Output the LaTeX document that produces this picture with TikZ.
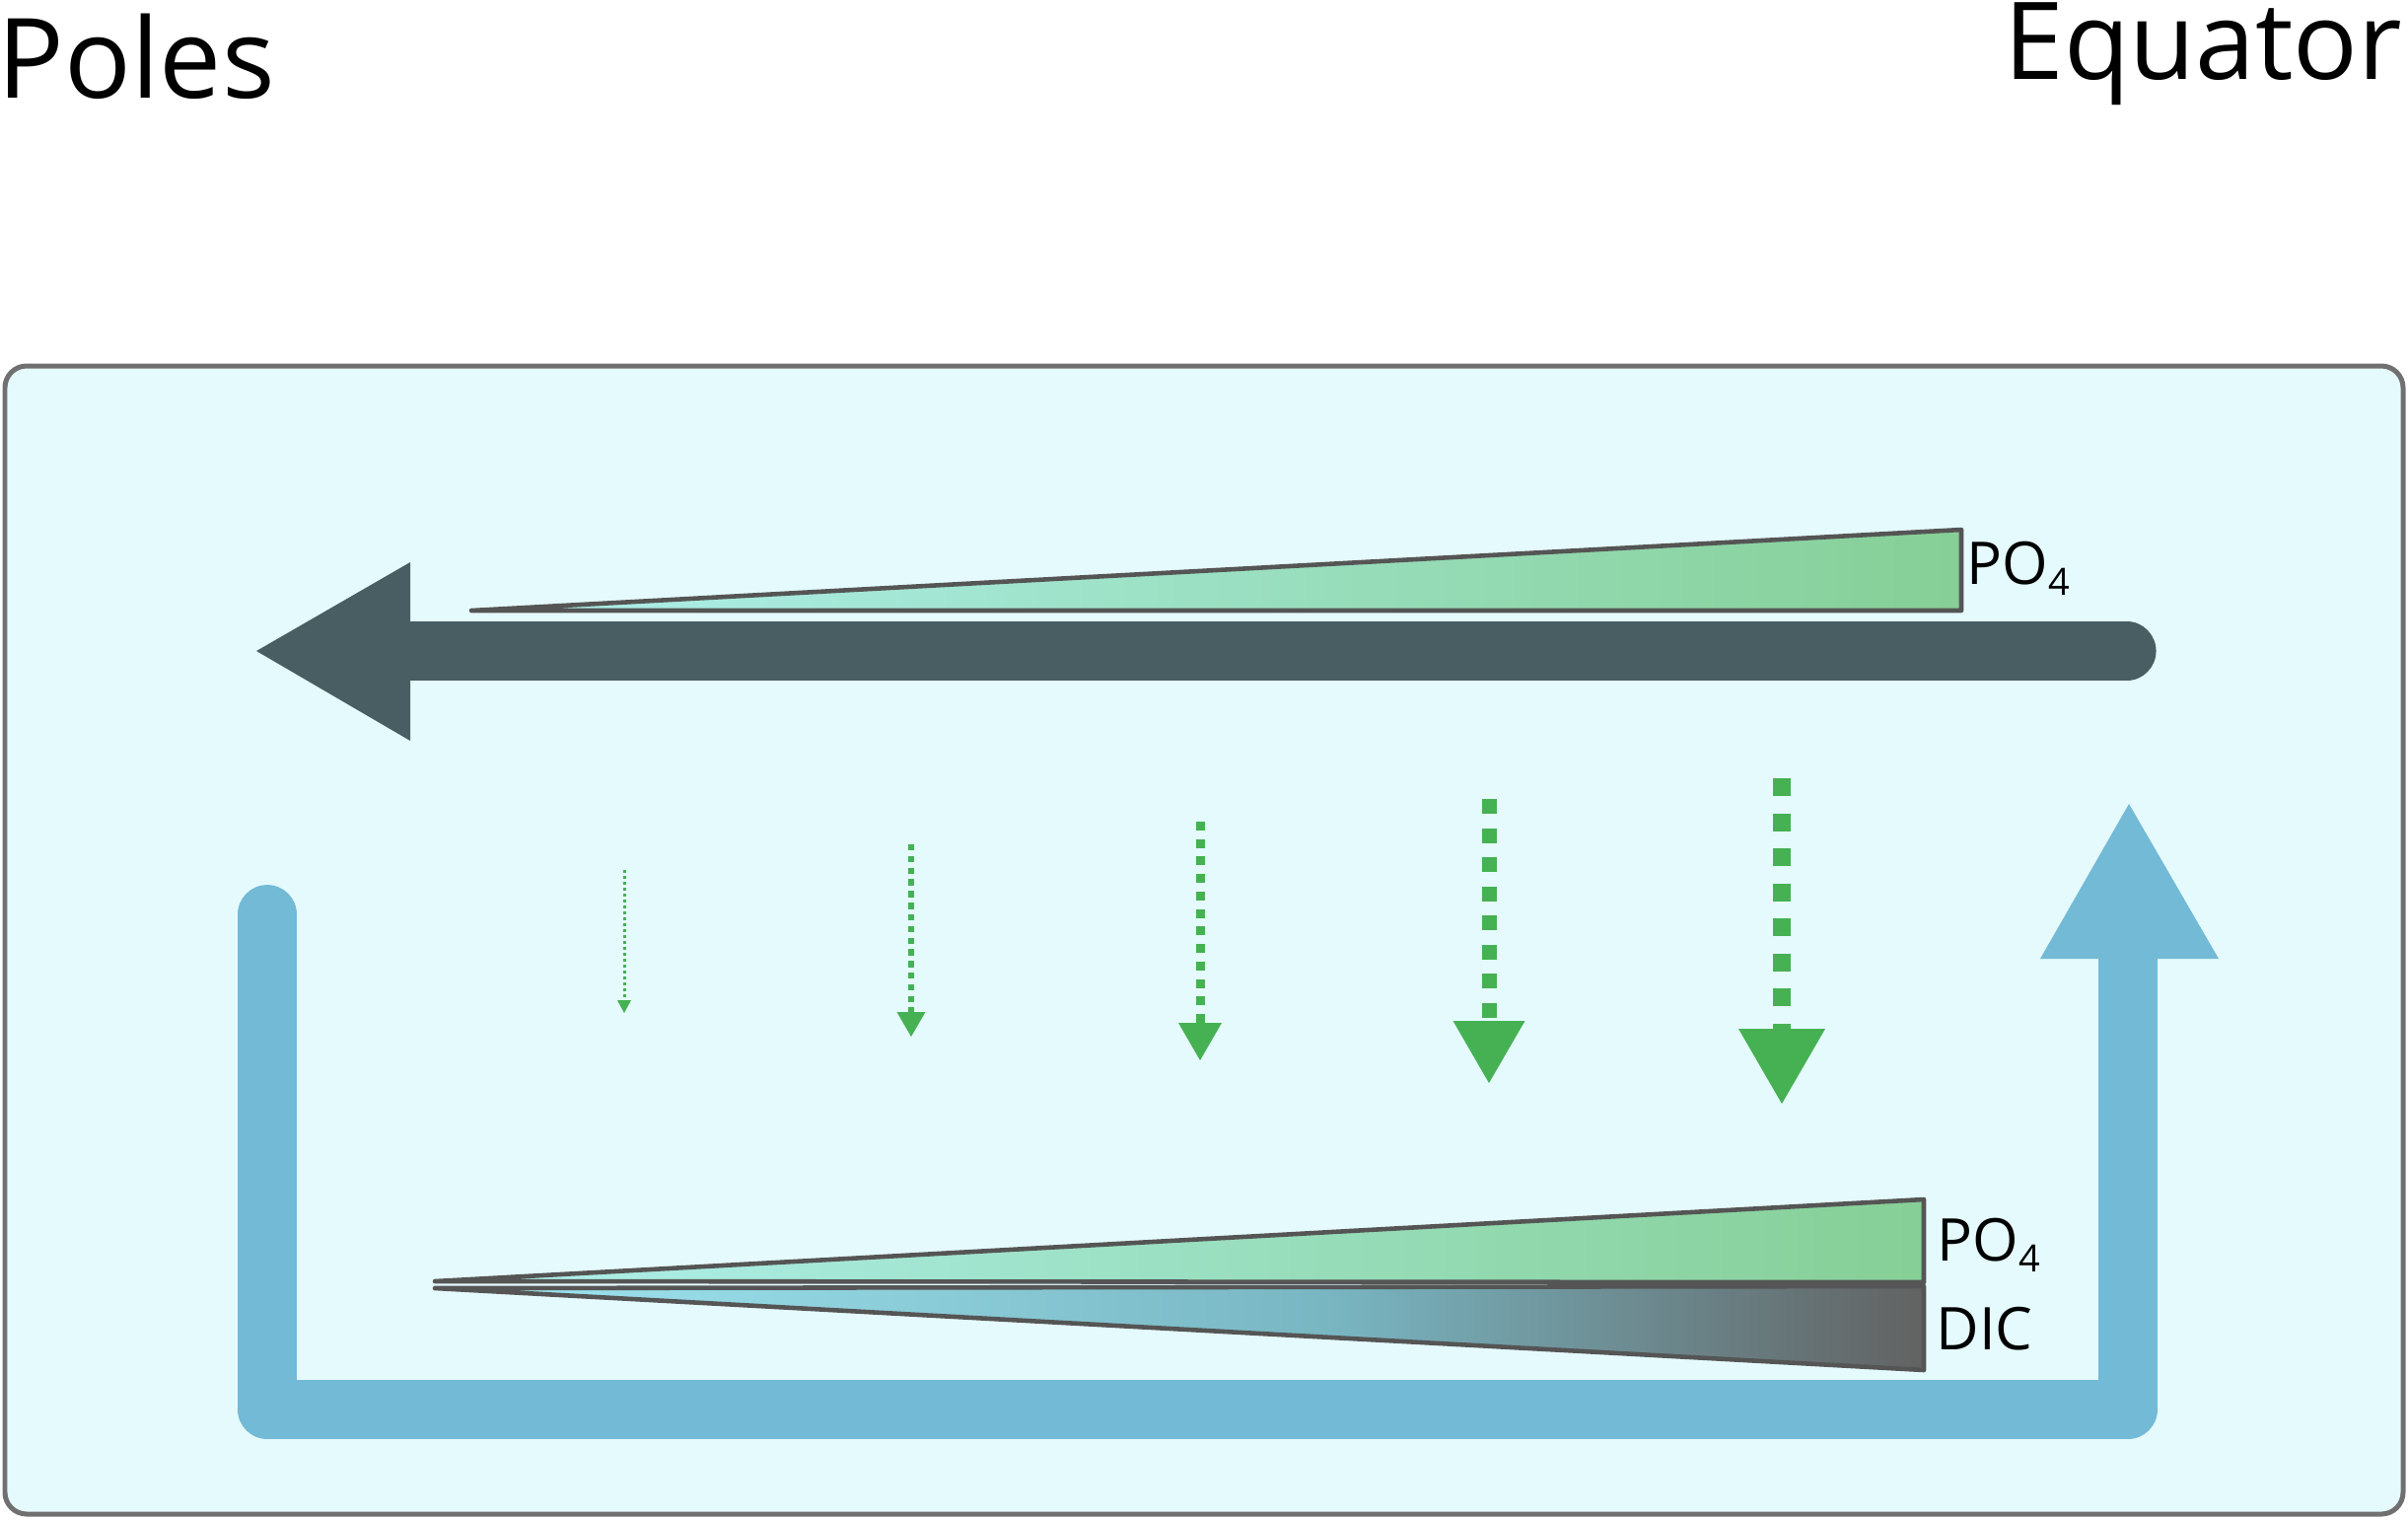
\documentclass[tikz,border=0pt]{standalone}
\usepackage{fontspec}
\setmainfont{Open Sans}
\definecolor{boxfill}{HTML}{E5FAFD}
\definecolor{boxline}{HTML}{707070}
\definecolor{darkflow}{HTML}{495E62}
\definecolor{blueflow}{HTML}{72BAD6}
\definecolor{sink}{HTML}{45B153}
\definecolor{wedgeline}{HTML}{555555}
\definecolor{poA}{HTML}{B0F0EE}
\definecolor{poB}{HTML}{86CF96}
\definecolor{dicA}{HTML}{A0E7F2}
\definecolor{dicB}{HTML}{78B6C2}
\definecolor{dicC}{HTML}{626262}
\pgfdeclarehorizontalshading{poshade}{100bp}{color(0bp)=(poA); color(25bp)=(poA); color(75bp)=(poB); color(100bp)=(poB)}
\pgfdeclarehorizontalshading{dicshade}{100bp}{color(0bp)=(dicA); color(25bp)=(dicA); color(55bp)=(dicB); color(75bp)=(dicC); color(100bp)=(dicC)}
\begin{document}
\begin{tikzpicture}[x=0.01cm,y=-0.01cm,
  wedge/.style={draw=wedgeline, line width=1.3pt, line join=round},
  lbl/.style={inner sep=0pt, anchor=base west, font=\fontsize{17}{17}\selectfont},
  title/.style={inner sep=0pt, font=\fontsize{32}{32}\selectfont},
  flow/.style={line cap=round, line join=round},
  sinkline/.style={draw=sink},
  sinkhead/.style={fill=sink}]
\useasboundingbox (0,0) rectangle (2442,1538);
% ocean box
\draw[fill=boxfill, draw=boxline, line width=1.42pt, rounded corners=0.22cm] (5,371) rectangle (2437,1535);
% titles
\node[title, anchor=base west] (poles) at (-3,99) {Poles};
\node[title, anchor=base east, font=\fontsize{31}{31}\selectfont] (equator) at (2437,80) {Equator};
% top surface flow (dark)
\coordinate (dstart) at (2157,660);
\coordinate (dend) at (416,660);
\draw[darkflow, flow, line width=16.8pt] (dstart) -- (dend);
\fill[darkflow] (416,570) -- (260,660) -- (416,751) -- cycle;
% deep return flow (blue)
\coordinate (bstart) at (271,927);
\coordinate (bc1) at (271,1429);
\coordinate (bc2) at (2158,1429);
\coordinate (bend) at (2158,975);
\draw[blueflow, flow, line width=17pt] (bstart) -- (bc1) -- (bc2) -- (bend);
\fill[blueflow] (2069,972) -- (2159,815) -- (2250,972) -- cycle;
% surface PO4 wedge
\shade[shading=poshade] (478,619) -- (1989,537) -- (1989,619) -- cycle;
\draw[wedge] (478,619) -- (1989,537) -- (1989,619) -- cycle;
\node[lbl] (po4top) at (1994,592) {PO\raisebox{-3.2pt}{\fontsize{10.8}{10.8}\selectfont 4}};
% deep PO4 and DIC wedges
\shade[shading=poshade] (441,1299) -- (1951,1216) -- (1951,1300) -- cycle;
\draw[wedge] (441,1299) -- (1951,1216) -- (1951,1300) -- cycle;
\shade[shading=dicshade] (441,1306) -- (1951,1304) -- (1951,1389) -- cycle;
\draw[wedge] (441,1306) -- (1951,1304) -- (1951,1389) -- cycle;
\node[lbl] (po4deep) at (1964,1278) {PO\raisebox{-3.2pt}{\fontsize{10.8}{10.8}\selectfont 4}};
\node[lbl] (dic) at (1963,1368) {DIC};
% sinking fluxes
\coordinate (s1a) at (633,882);  \coordinate (s1b) at (633,1014);
\coordinate (s2a) at (924,856);  \coordinate (s2b) at (924,1026);
\coordinate (s3a) at (1217,833); \coordinate (s3b) at (1217,1037);
\coordinate (s4a) at (1510,810); \coordinate (s4b) at (1510,1035);
\coordinate (s5a) at (1807,789); \coordinate (s5b) at (1807,1043);
\draw[sinkline, line width=0.85pt, dash pattern=on 0.85pt off 0.85pt] (s1a) -- (s1b);
\draw[sinkline, line width=1.71pt, dash pattern=on 1.82pt off 1.54pt] (s2a) -- (s2b);
\draw[sinkline, line width=2.56pt, dash pattern=on 2.56pt off 2.48pt] (s3a) -- (s3b);
\draw[sinkline, line width=4.27pt, dash pattern=on 4.27pt off 4.13pt] (s4a) -- (s4b);
\draw[sinkline, line width=5.12pt, dash pattern=on 5.12pt off 4.98pt] (s5a) -- (s5b);
\fill[sinkhead] (s1b) ++(-7,0) -- ++(14,0) -- (633,1027) -- cycle;
\fill[sinkhead] (s2b) ++(-14.5,0) -- ++(29,0) -- (924,1051) -- cycle;
\fill[sinkhead] (s3b) ++(-22,0) -- ++(44,0) -- (1217,1075) -- cycle;
\fill[sinkhead] (s4b) ++(-36.5,0) -- ++(73,0) -- (1510,1098) -- cycle;
\fill[sinkhead] (s5b) ++(-44,0) -- ++(88,0) -- (1807,1119) -- cycle;
\end{tikzpicture}
\end{document}
